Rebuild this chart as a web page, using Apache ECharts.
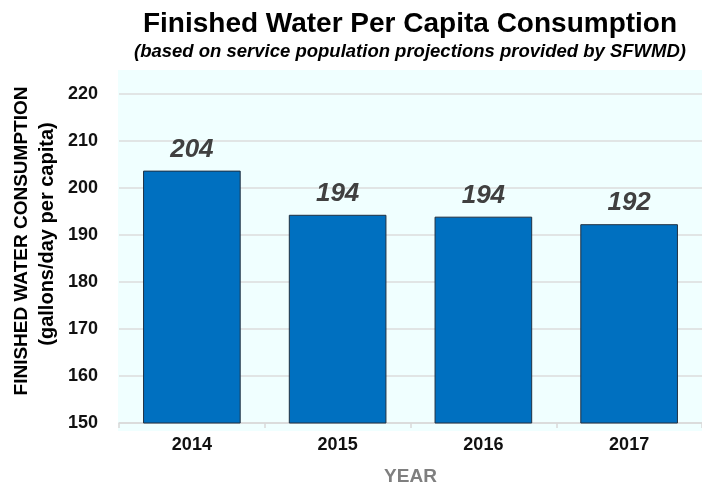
<!DOCTYPE html>
<html>
<head>
<meta charset="utf-8">
<script src="https://cdn.jsdelivr.net/npm/echarts@6/dist/echarts.min.js"></script>
<style>
html,body{margin:0;padding:0;background:#fff;}
#chart{width:702px;height:491px;}
</style>
</head>
<body>
<div id="chart"></div>
<script>
const years = ['2014', '2015', '2016', '2017'];
const consumption = [203.7, 194.3, 193.9, 192.3];
const yTicks = [150, 160, 170, 180, 190, 200, 210, 220];
const titleText = 'Finished Water Per Capita Consumption';
const subtitleText = '(based on service population projections provided by SFWMD)';
const yNameLine1 = 'FINISHED WATER CONSUMPTION';
const yNameLine2 = '(gallons/day per capita)';
const xName = 'YEAR';

const FONT = '"Liberation Sans", Arial, sans-serif';
const chart = echarts.init(document.getElementById('chart'), null, {renderer: 'canvas'});
chart.setOption({
  animation: false,
  backgroundColor: '#ffffff',
  textStyle: {fontFamily: FONT},
  title: {
    text: titleText,
    subtext: subtitleText,
    left: 405,
    top: 5,
    textAlign: 'center',
    itemGap: 4,
    textStyle: {fontFamily: FONT, fontSize: 28, fontWeight: 'bold', color: '#000000'},
    subtextStyle: {fontFamily: FONT, fontSize: 18.5, fontWeight: 'bold', fontStyle: 'italic', color: '#000000'}
  },
  graphic: [
    {type: 'rect', z: -10, silent: true, shape: {x: 118, y: 70, width: 600, height: 361}, style: {fill: '#F0FFFF'}},
    {type: 'text', x: 22, y: 241, rotation: Math.PI / 2, style: {text: yNameLine1, font: 'bold 19px ' + FONT, fill: '#000', textAlign: 'center', textVerticalAlign: 'middle'}},
    {type: 'text', x: 47, y: 234, rotation: Math.PI / 2, style: {text: yNameLine2, font: 'bold 20px ' + FONT, fill: '#000', textAlign: 'center', textVerticalAlign: 'middle'}}
  ],
  grid: {left: 119, right: -9, top: 94, bottom: 60, containLabel: false},
  xAxis: {
    type: 'category',
    data: years,
    name: xName,
    nameLocation: 'middle',
    nameGap: 44,
    nameTextStyle: {fontFamily: FONT, fontSize: 19, fontWeight: 'bold', color: '#7F7F7F'},
    axisLine: {lineStyle: {color: '#D9D9D9', width: 1.5}},
    axisTick: {show: true, length: 5, lineStyle: {color: '#D9D9D9', width: 1.5}},
    axisLabel: {fontFamily: FONT, fontSize: 18, fontWeight: 'bold', color: '#111', margin: 13}
  },
  yAxis: {
    type: 'value',
    min: yTicks[0],
    max: yTicks[yTicks.length - 1],
    interval: 10,
    axisLine: {show: false},
    axisTick: {show: false},
    axisLabel: {fontFamily: FONT, fontSize: 18, fontWeight: 'bold', color: '#111', margin: 21},
    splitLine: {lineStyle: {color: '#DCDCDC', width: 1.5}}
  },
  series: [{
    type: 'bar',
    data: consumption,
    barCategoryGap: '33%',
    itemStyle: {color: '#0070C0', borderColor: '#203040', borderWidth: 1},
    label: {
      show: true,
      position: 'top',
      distance: 8,
      formatter: p => Math.round(p.value),
      fontFamily: FONT,
      fontSize: 26,
      fontWeight: 'bold',
      fontStyle: 'italic',
      color: '#404040'
    }
  }]
});
</script>
</body>
</html>
